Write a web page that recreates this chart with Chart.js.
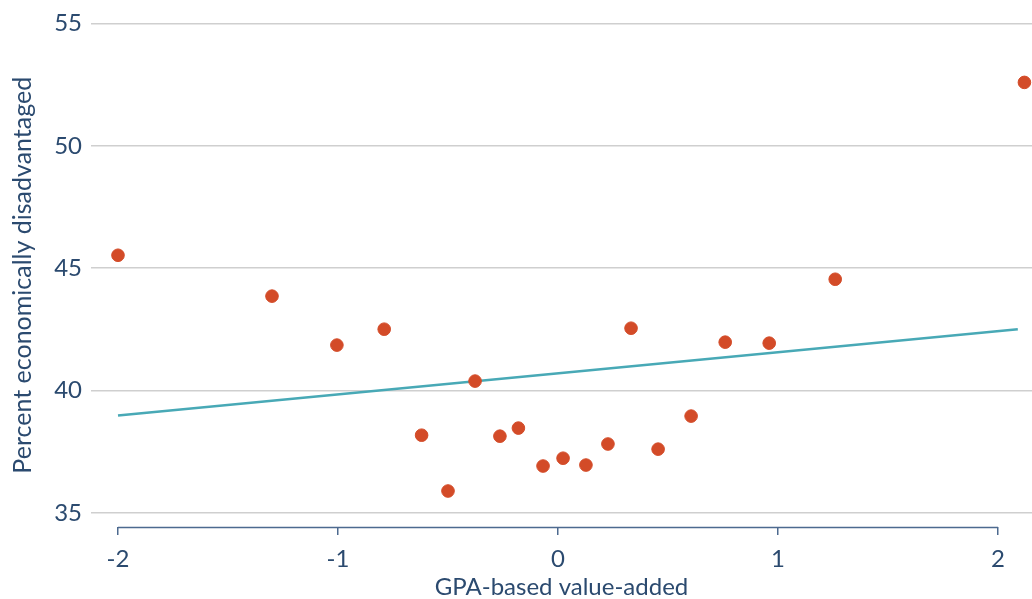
<!DOCTYPE html>
<html>
<head>
<meta charset="utf-8">
<script src="https://cdn.jsdelivr.net/npm/chart.js@4"></script>
<style>
html,body{margin:0;padding:0;background:#fff;}
#wrap{width:1032px;height:599px;}
</style>
</head>
<body>
<div id="wrap"><canvas id="c" width="1032" height="599"></canvas></div>
<script>
const valueAdded = [-2.0, -1.30, -1.005, -0.79, -0.62, -0.50, -0.377, -0.264, -0.18, -0.068, 0.023, 0.127, 0.227, 0.332, 0.455, 0.605, 0.76, 0.96, 1.26, 2.12];
const pctDisadv = [45.53, 43.86, 41.86, 42.51, 38.18, 35.90, 40.39, 38.14, 38.47, 36.92, 37.24, 36.96, 37.82, 42.55, 37.61, 38.96, 41.98, 41.94, 44.55, 52.59];
const trendX = [-2.0, 2.09];
const trendY = [38.98, 42.51];
const xTicks = [-2, -1, 0, 1, 2];
const yTicks = [35, 40, 45, 50, 55];

const textColor = '#2b4a6f';
const font = "Lato, 'Open Sans', sans-serif";

const axisLinePlugin = {
  id: 'axisLine',
  afterDraw(chart) {
    const xs = chart.scales.x;
    const ctx = chart.ctx;
    const y = chart.chartArea.bottom + 0.5;
    ctx.save();
    ctx.strokeStyle = '#4d6a8f';
    ctx.lineWidth = 1.5;
    ctx.beginPath();
    ctx.moveTo(xs.getPixelForValue(xTicks[0]), y);
    ctx.lineTo(xs.getPixelForValue(xTicks[xTicks.length - 1]), y);
    ctx.stroke();
    ctx.restore();
  }
};

new Chart(document.getElementById('c'), {
  type: 'scatter',
  data: {
    datasets: [
      {
        type: 'line',
        data: trendX.map((x, i) => ({x, y: trendY[i]})),
        borderColor: '#48a9b6',
        borderWidth: 2.5,
        pointRadius: 0,
        fill: false,
        order: 2
      },
      {
        data: valueAdded.map((x, i) => ({x, y: pctDisadv[i]})),
        backgroundColor: '#d34b28',
        borderColor: '#d34b28',
        pointRadius: 6.3,
        pointHoverRadius: 6.3,
        clip: false,
        order: 1
      }
    ]
  },
  options: {
    responsive: false,
    animation: false,
    plugins: { legend: { display: false }, tooltip: { enabled: false } },
    layout: { autoPadding: false, padding: { top: 23, right: 0, left: 0, bottom: 0 } },
    scales: {
      x: {
        type: 'linear',
        min: -2.1227,
        max: 2.1545,
        afterBuildTicks(scale) { scale.ticks = xTicks.map(v => ({value: v})); },
        border: { display: false },
        grid: { drawOnChartArea: false, drawTicks: true, tickLength: 8, color: '#4d6a8f', lineWidth: 1.5 },
        ticks: { color: textColor, font: { family: font, size: 24 }, padding: 10, maxRotation: 0 },
        title: { display: true, text: 'GPA-based value-added', color: textColor, font: { family: font, size: 24 }, padding: { top: 0, bottom: -3 } },
        afterFit(scale) { scale.height = 72; scale.paddingRight = 0; }
      },
      y: {
        type: 'linear',
        min: 34.43,
        max: 55,
        afterBuildTicks(scale) { scale.ticks = yTicks.map(v => ({value: v})); },
        border: { display: false },
        grid: { drawTicks: false, color: '#cfcfcf', lineWidth: 1.5 },
        ticks: { color: textColor, font: { family: font, size: 24 }, padding: 9 },
        title: { display: true, text: 'Percent economically disadvantaged', color: textColor, font: { family: font, size: 25 }, padding: { top: 8, bottom: 0 } },
        afterFit(scale) { scale.width = 91; }
      }
    }
  },
  plugins: [axisLinePlugin]
});
</script>
</body>
</html>
